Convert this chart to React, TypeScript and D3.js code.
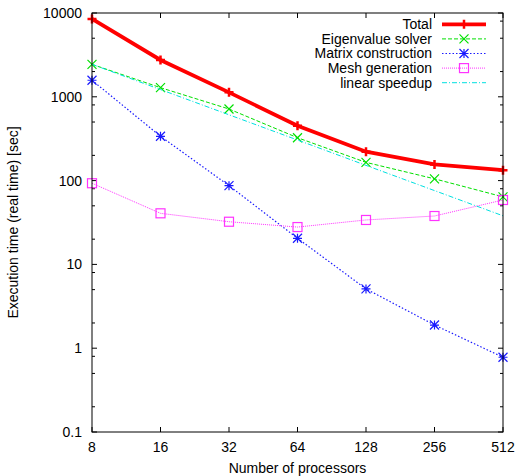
import React from "react";
import { scaleLog, line } from "d3";

// processors on x, seconds on y
const procs = [8, 16, 32, 64, 128, 256, 512];
const total = [8500, 2750, 1130, 452, 221, 156, 133];
const eigen = [2440, 1285, 715, 325, 165, 105, 64];
const matrix = [1575, 338, 87, 20.5, 5.1, 1.89, 0.78];
const mesh = [93, 40.7, 32.3, 27.9, 33.9, 37.8, 58.7];
const speedup = [2440, 1220, 610, 305, 152, 76, 38];

const yMajor = [0.1, 1, 10, 100, 1000, 10000];
const yMinorMult = [2, 5, 8];

const series = [
  { name: "Total", values: total, color: "#ff0000", width: 3.8, dash: "", marker: "plus" },
  { name: "Eigenvalue solver", values: eigen, color: "#00e000", width: 1, dash: "4,2", marker: "x" },
  { name: "Matrix construction", values: matrix, color: "#1a1aff", width: 1.2, dash: "1.5,2", marker: "star" },
  { name: "Mesh generation", values: mesh, color: "#ff33ff", width: 1, dash: "1,1", marker: "square" },
  { name: "linear speedup", values: speedup, color: "#00e0e0", width: 1, dash: "5,2,1,2", marker: "" },
];

const margin = { top: 13, right: 16, bottom: 44, left: 92 };
const W = 519, H = 476;
const pw = W - margin.left - margin.right;
const ph = H - margin.top - margin.bottom;
const fs = 14;

const Marker = ({ kind, x, y, color }: any) => {
  const s = 4.5;
  if (kind === "plus")
    return (
      <path d={`M${x - s},${y}H${x + s}M${x},${y - s}V${y + s}`} stroke={color} strokeWidth={2.5} />
    );
  if (kind === "x")
    return (
      <path d={`M${x - s},${y - s}L${x + s},${y + s}M${x - s},${y + s}L${x + s},${y - s}`} stroke={color} strokeWidth={1.2} />
    );
  if (kind === "star")
    return (
      <path
        d={`M${x - s},${y - s}L${x + s},${y + s}M${x - s},${y + s}L${x + s},${y - s}M${x},${y - s}V${y + s}M${x - s},${y}H${x + s}`}
        stroke={color}
        strokeWidth={1.2}
      />
    );
  if (kind === "square")
    return <rect x={x - s} y={y - s} width={2 * s} height={2 * s} fill="none" stroke={color} strokeWidth={1.2} />;
  return null;
};

export default function App() {
  const x = scaleLog().base(2).domain([8, 512]).range([0, pw]);
  const y = scaleLog().domain([0.1, 10000]).range([ph, 0]);
  const gen = line<number>()
    .x((_, i) => x(procs[i]))
    .y((d) => y(d));

  const minors: number[] = [];
  yMajor.slice(0, -1).forEach((m) => yMinorMult.forEach((k) => minors.push(m * k)));

  const font = "Liberation Sans, Arial, sans-serif";

  return (
    <svg width={W} height={H} style={{ position: "absolute", left: 0, top: 0 }} fontFamily={font}>
      <g transform={`translate(${margin.left},${margin.top})`}>
        {/* y ticks */}
        {yMajor.map((v) => (
          <g key={"ym" + v}>
            <line x1={0} x2={5} y1={y(v)} y2={y(v)} stroke="#000" />
            <line x1={pw - 5} x2={pw} y1={y(v)} y2={y(v)} stroke="#000" />
            <text x={-10} y={y(v)} dy="0.35em" textAnchor="end" fontSize={fs}>
              {v}
            </text>
          </g>
        ))}
        {minors.map((v) => (
          <g key={"yn" + v}>
            <line x1={0} x2={3} y1={y(v)} y2={y(v)} stroke="#000" />
            <line x1={pw - 3} x2={pw} y1={y(v)} y2={y(v)} stroke="#000" />
          </g>
        ))}
        {/* x ticks */}
        {procs.map((p) => (
          <g key={"x" + p}>
            <line x1={x(p)} x2={x(p)} y1={ph} y2={ph - 5} stroke="#000" />
            <line x1={x(p)} x2={x(p)} y1={0} y2={5} stroke="#000" />
            <text x={x(p)} y={ph + 20} textAnchor="middle" fontSize={fs}>
              {p}
            </text>
          </g>
        ))}

        {/* series */}
        {series.map((s) => (
          <g key={s.name}>
            <path d={gen(s.values) || ""} fill="none" stroke={s.color} strokeWidth={s.width} strokeDasharray={s.dash} />
            {s.values.map((v, i) => (
              <Marker key={i} kind={s.marker} x={x(procs[i])} y={y(v)} color={s.color} />
            ))}
          </g>
        ))}

        <rect x={0} y={0} width={pw} height={ph} fill="none" stroke="#000" />

        {/* legend */}
        {series.map((s, i) => {
          const ly = 11.3 + i * 14.6;
          return (
            <g key={"lg" + s.name}>
              <text x={340} y={ly} dy="0.35em" textAnchor="end" fontSize={fs}>
                {s.name}
              </text>
              <line x1={350} x2={394} y1={ly} y2={ly} stroke={s.color} strokeWidth={s.width} strokeDasharray={s.dash} />
              <Marker kind={s.marker} x={372} y={ly} color={s.color} />
            </g>
          );
        })}

        <text x={pw / 2} y={ph + 41} textAnchor="middle" fontSize={fs}>
          Number of processors
        </text>
        <text transform={`translate(${-74},${ph / 2}) rotate(-90)`} textAnchor="middle" fontSize={fs}>
          Execution time (real time) [sec]
        </text>
      </g>
    </svg>
  );
}
